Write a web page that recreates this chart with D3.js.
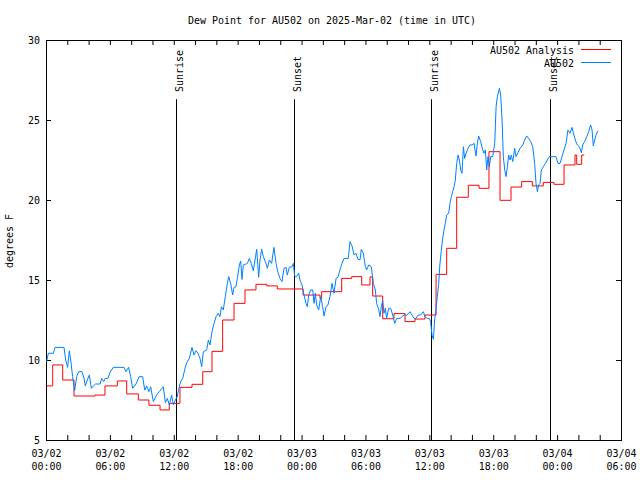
<!DOCTYPE html>
<html><head><meta charset="utf-8">
<script src="https://cdn.jsdelivr.net/npm/d3@7"></script>
<style>
body{margin:0;background:#fff}
text{font-family:"DejaVu Sans Mono","Liberation Mono",monospace;font-size:11px;fill:#000}
</style>
</head><body>
<svg id="chart" width="640" height="480"></svg>
<script>
// ---------- data ----------
const titleText = "Dew Point for AU502 on 2025-Mar-02 (time in UTC)";
const yAxisLabel = "degrees F";
const startTimeUTC = Date.UTC(2025, 2, 2, 0, 0);
const xDomainHours = [0, 54];
const yDomain = [5, 30];
const yTickValues = [5, 10, 15, 20, 25, 30];
const xTickHours = [0,2,4,6,8,10,12,14,16,18,20,22,24,26,28,30,32,34,36,38,40,42,44,46,48,50,52,54];
const xLabelHours = [0, 6, 12, 18, 24, 30, 36, 42, 48, 54];
const xLabelDates = ["03/02","03/02","03/02","03/02","03/03","03/03","03/03","03/03","03/04","03/04"];
const xLabelTimes = ["00:00","06:00","12:00","18:00","00:00","06:00","12:00","18:00","00:00","06:00"];
const sunEvents = [
  {label: "Sunrise", hour: 12.21},
  {label: "Sunset",  hour: 23.31},
  {label: "Sunrise", hour: 36.18},
  {label: "Sunset",  hour: 47.35}
];
const seriesNames = ["AU502 Analysis", "AU502"];
const seriesColors = ["#ff0000", "#0080ff"];

// analysis (hour offset, °F) — stepped
const analysisSeries = [
[0.07,8.38],[0.63,9.69],[1.57,8.75],[2.63,7.75],[4.60,7.81],[5.54,8.38],[6.70,8.69],[7.58,7.88],
[8.67,7.5],[9.67,7.17],[10.71,6.88],[11.58,7.29],[12.58,8.29],[13.71,8.48],[14.72,9.27],[15.59,10.54],
[16.59,12.5],[17.66,13.54],[18.69,14.38],[19.72,14.73],[20.73,14.63],[21.72,14.44],[24.14,14.06],
[25.73,13.85],[25.89,14.27],[27.77,15.1],[28.71,15.21],[29.65,14.69],[30.43,15.19],[30.68,14.0],
[31.62,12.58],[32.68,12.9],[33.72,12.4],[34.65,12.56],[35.59,12.81],[36.63,15.35],[37.63,16.98],
[38.57,20.17],[39.66,20.92],[40.67,20.73],[41.60,23.02],[42.64,19.98],[43.67,20.81],[44.67,21.15],
[45.67,20.88],[46.70,21.1],[47.71,20.98],[48.65,22.19],[49.68,22.81],[49.84,22.23],[50.31,22.81],[50.55,22.81]
];

// observations (hour offset, °F)
const observedSeries = [
[0.06,9.9],[0.22,10.42],[0.69,10.42],[0.85,10.79],[1.69,10.79],[1.85,10.0],[2.03,9.54],[2.19,10.58],
[2.32,10.0],[2.50,8.96],[2.69,8.08],[2.88,8.96],[3.07,9.27],[3.38,9.27],[3.57,8.85],[3.69,8.38],
[3.88,8.75],[4.07,9.06],[4.26,8.23],[4.45,8.38],[4.66,8.5],[5.07,8.5],[5.23,8.85],[5.42,8.65],
[5.57,8.85],[5.82,8.85],[6.01,9.23],[6.32,9.54],[7.33,9.54],[7.51,9.27],[7.76,9.54],[7.95,8.96],
[8.14,8.23],[8.45,8.5],[8.77,8.96],[9.08,8.96],[9.27,8.12],[9.45,8.38],[9.67,8.02],[9.83,8.33],
[10.08,7.4],[10.39,7.81],[10.64,8.02],[11.02,8.33],[11.21,7.33],[11.39,7.6],[11.58,7.19],[11.80,7.81],
[11.96,7.19],[12.15,7.5],[12.33,7.71],[12.46,8.17],[12.65,8.65],[12.84,8.85],[13.02,9.38],[13.21,9.83],
[13.46,10.1],[13.71,10.79],[13.90,10.31],[14.09,10.58],[14.27,10.42],[14.46,10.1],
[14.62,9.58],[14.78,10.52],[15.09,10.63],[15.25,11.25],[15.40,10.94],[15.59,11.77],[15.78,12.29],
[15.97,12.71],[16.18,12.92],[16.34,12.71],[16.47,13.33],[16.65,13.13],[16.84,13.96],[17.03,14.79],
[17.16,15.21],[17.34,14.79],[17.53,14.06],[17.66,14.54],[17.84,14.58],[17.97,15.1],[18.16,15.94],
[18.28,16.19],[18.41,15.04],[18.53,15.94],[18.72,15.98],[18.91,16.04],[19.10,16.35],[19.28,16.04],
[19.47,15.58],[19.63,16.25],[19.79,16.92],[19.97,15.17],[20.10,16.25],[20.25,16.92],[20.41,16.46],
[20.60,16.15],[20.79,15.73],[20.97,16.25],[21.19,16.04],[21.41,17.04],[21.60,16.04],[21.79,15.46],
[21.98,15.1],[22.16,14.9],[22.35,15.73],[22.54,15.79],[22.66,15.31],[22.85,15.79],[23.10,15.83],
[23.23,16.04],[23.35,15.25],[23.54,15.21],[23.73,15.42],[23.85,15.0],[24.04,14.69],[24.23,14.06],
[24.42,13.54],[24.54,13.33],[24.67,14.06],[24.86,14.38],[25.05,14.38],[25.17,13.54],[25.29,14.17],
[25.42,13.44],[25.61,13.13],[25.80,13.96],[25.98,13.33],[26.11,12.75],[26.30,13.33],[26.48,13.44],
[26.67,13.96],[26.86,14.79],[27.05,14.17],[27.24,15.1],[27.42,15.17],[27.61,15.63],[27.80,16.04],
[27.99,16.35],[28.39,16.35],[28.55,17.4],[28.74,17.13],[28.93,16.56],[29.11,16.67],[29.30,16.29],
[29.49,16.25],[29.61,16.92],[29.80,16.67],[29.99,15.83],[30.12,15.63],[30.30,15.94],[30.55,15.83],
[30.74,14.79],[30.93,14.38],[31.05,13.54],[31.24,13.17],[31.37,12.71],[31.49,13.33],[31.62,13.71],
[31.74,12.92],[31.87,13.23],[31.99,12.6],[32.18,13.23],[32.37,13.23],[32.56,12.81],[32.75,12.29],
[32.93,12.6],[33.25,12.6],[33.44,12.71],[33.62,12.81],[33.87,12.81],[34.06,12.92],[34.18,13.02],
[34.37,12.81],[34.56,12.6],[34.75,12.6],[34.94,12.81],
[35.19,12.81],[35.44,13.02],[35.59,12.71],[35.81,12.6],[36.00,12.6],[36.12,12.4],[36.25,11.56],
[36.38,11.29],[36.50,12.5],[36.63,13.23],[36.75,13.96],[36.88,14.79],[37.00,16.04],[37.13,16.88],
[37.25,17.6],[37.38,18.13],[37.50,18.54],[37.63,19.06],[37.82,19.17],[37.94,19.79],[38.07,20.21],
[38.19,20.52],[38.32,20.83],[38.44,21.25],[38.57,22.29],[38.70,22.81],[38.82,22.5],[38.95,21.88],
[39.07,21.67],[39.20,23.33],[39.32,22.6],[39.45,22.92],[39.64,23.23],[39.82,23.44],[40.01,23.44],
[40.20,23.54],[40.38,22.75],[40.51,23.54],[40.63,24.0],[40.82,23.65],[41.01,23.13],[41.14,22.92],
[41.26,23.13],[41.39,21.88],[41.51,22.71],[41.64,22.08],[41.76,22.71],[41.95,22.71],[42.14,23.54],
[42.27,25.83],[42.39,26.46],[42.58,26.98],[42.70,26.56],[42.83,25.0],[42.95,22.71],[43.08,21.88],
[43.20,21.46],[43.33,22.08],[43.45,22.81],[43.58,22.5],[43.70,22.81],[43.83,22.4],[44.02,23.23],
[44.14,22.71],[44.33,22.96],[44.52,23.23],[44.77,23.44],[44.95,23.75],[45.14,24.0],[45.33,23.85],
[45.52,23.65],[45.71,23.33],[45.89,22.29],[46.02,21.04],[46.15,20.52],[46.27,20.94],[46.40,21.04],
[46.52,21.88],[46.71,22.08],[46.90,22.29],[47.08,22.5],[47.27,22.71],[47.65,22.71],[47.90,22.71],
[48.08,22.29],[48.27,22.29],[48.46,22.71],[48.65,23.13],[48.84,23.54],[49.02,24.38],[49.21,24.17],
[49.40,24.54],[49.53,24.17],[49.71,23.75],[49.90,23.44],[50.09,23.33],[50.28,22.96],[50.40,23.44],
[50.59,23.65],[50.78,23.96],[50.97,24.27],[51.15,24.69],[51.28,24.38],[51.40,23.38],[51.53,23.75],
[51.65,24.06],[51.84,24.33]
];

// ---------- drawing ----------
const svg = d3.select("#chart");
const H = 3600 * 1000;
const toDate = h => new Date(startTimeUTC + h * H);
const x = d3.scaleUtc().domain(xDomainHours.map(toDate)).range([46, 621]);
const y = d3.scaleLinear().domain(yDomain).range([440, 40]);
const CH = 6; // char cell width
function fit(sel) {
  sel.each(function () {
    const n = this.textContent.length;
    this.setAttribute("textLength", n * CH);
    this.setAttribute("lengthAdjust", "spacingAndGlyphs");
  });
  return sel;
}

// ticks (inward, mirrored)
const tickLen = 5;
const axB = d3.axisBottom(x).tickValues(xTickHours.map(toDate)).tickSize(-tickLen).tickFormat("");
const axT = d3.axisTop(x).tickValues(xTickHours.map(toDate)).tickSize(-tickLen).tickFormat("");
const axL = d3.axisLeft(y).tickValues(yTickValues).tickSize(-tickLen).tickFormat("");
const axR = d3.axisRight(y).tickValues(yTickValues).tickSize(-tickLen).tickFormat("");
[[axB, `translate(0,${y.range()[0]})`], [axT, `translate(0,${y.range()[1]})`],
 [axL, `translate(${x.range()[0]},0)`], [axR, `translate(${x.range()[1]},0)`]].forEach(([ax, tr]) => {
  const g = svg.append("g").attr("transform", tr).call(ax);
  g.select(".domain").remove();
  g.selectAll(".tick line").attr("stroke", "#000");
});

// frame
svg.append("rect")
  .attr("x", x.range()[0] + 0.5).attr("y", y.range()[1] + 0.5)
  .attr("width", x.range()[1] - x.range()[0]).attr("height", y.range()[0] - y.range()[1])
  .attr("fill", "none").attr("stroke", "#000");

// y labels
svg.append("g").selectAll("text").data(yTickValues).join("text")
  .attr("x", 40).attr("y", d => y(d) + 4).attr("text-anchor", "end").text(d => d).call(fit);

// x labels
const xl = svg.append("g");
xl.selectAll("text.d").data(xLabelHours).join("text").attr("class", "d")
  .attr("x", d => x(toDate(d)) + 0.5).attr("y", 457).attr("text-anchor", "middle")
  .text((d, i) => xLabelDates[i]).call(fit);
xl.selectAll("text.t").data(xLabelHours).join("text").attr("class", "t")
  .attr("x", d => x(toDate(d)) + 0.5).attr("y", 470).attr("text-anchor", "middle")
  .text((d, i) => xLabelTimes[i]).call(fit);

// title & y label
svg.append("text").attr("x", 332).attr("y", 24).attr("text-anchor", "middle").text(titleText).call(fit);
svg.append("text").attr("transform", "translate(13,241) rotate(-90)").attr("text-anchor", "middle")
  .text(yAxisLabel).call(fit);

// sunrise / sunset markers
const sg = svg.append("g");
sunEvents.forEach(e => {
  const xp = Math.round(x(toDate(e.hour))) + 0.5;
  sg.append("line").attr("x1", xp).attr("x2", xp).attr("y1", y(26.3)).attr("y2", y(5))
    .attr("stroke", "#000").attr("stroke-width", 1);
  sg.append("text").attr("transform", `translate(${xp + 6},${y(26.75)}) rotate(-90)`)
    .attr("text-anchor", "start").text(e.label).call(fit);
});

// series
svg.append("clipPath").attr("id", "clp").append("rect")
  .attr("x", 46).attr("y", 40).attr("width", 575).attr("height", 400);
const lineObs = d3.line().x(d => x(toDate(d[0]))).y(d => y(d[1]));
const lineAna = d3.line().x(d => x(toDate(d[0]))).y(d => y(d[1])).curve(d3.curveStepAfter);
svg.append("path").datum(analysisSeries).attr("d", lineAna)
  .attr("fill", "none").attr("stroke", seriesColors[0]).attr("stroke-width", 1).attr("clip-path", "url(#clp)");
svg.append("path").datum(observedSeries).attr("d", lineObs)
  .attr("fill", "none").attr("stroke", seriesColors[1]).attr("stroke-width", 1).attr("clip-path", "url(#clp)");

// legend
const lg = svg.append("g");
seriesNames.forEach((name, i) => {
  const cy = 49.5 + i * 13;
  lg.append("text").attr("x", 574).attr("y", cy + 4).attr("text-anchor", "end").text(name).call(fit);
  lg.append("line").attr("x1", 581).attr("x2", 611).attr("y1", cy).attr("y2", cy)
    .attr("stroke", seriesColors[i]).attr("stroke-width", 1);
});
</script>
</body></html>
